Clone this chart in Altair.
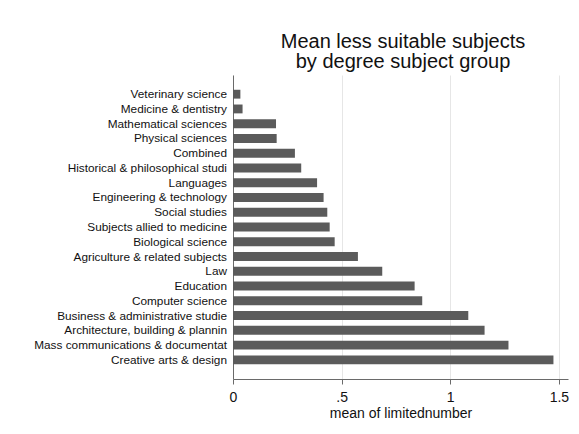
import altair as alt
import pandas as pd

subjects = [
    "Veterinary science",
    "Medicine & dentistry",
    "Mathematical sciences",
    "Physical sciences",
    "Combined",
    "Historical & philosophical studi",
    "Languages",
    "Engineering & technology",
    "Social studies",
    "Subjects allied to medicine",
    "Biological science",
    "Agriculture & related subjects",
    "Law",
    "Education",
    "Computer science",
    "Business & administrative studie",
    "Architecture, building & plannin",
    "Mass communications & documentat",
    "Creative arts & design",
]
means = [0.034, 0.044, 0.198, 0.201, 0.285, 0.314, 0.387, 0.417, 0.434, 0.445,
         0.468, 0.575, 0.687, 0.836, 0.871, 1.083, 1.158, 1.268, 1.475]
x_ticks = [0, 0.5, 1, 1.5]
title_lines = ["Mean less suitable subjects", "by degree subject group"]
x_title = "mean of limitednumber"

df = pd.DataFrame({"subject": subjects, "mean": means})

FONT = "Liberation Sans"

chart = alt.Chart(df).mark_bar(color="#5b5b5b").encode(
    x=alt.X(
        "mean:Q",
        scale=alt.Scale(domain=[0, 1.542], nice=False, zero=True),
        axis=alt.Axis(
            values=x_ticks,
            labelExpr="datum.value == 0.5 ? '.5' : format(datum.value, '~g')",
            title=x_title,
            grid=True,
            gridColor="#e6e6e6",
            gridWidth=1,
            domainColor="#6a6a6a",
            tickColor="#6a6a6a",
            tickSize=5,
            labelFontSize=14,
            titleFontSize=14,
            labelColor="#111111",
            titleColor="#111111",
            titleFontWeight="normal",
            labelPadding=6,
            titlePadding=2,
            labelFlush=False,
        ),
    ),
    y=alt.Y(
        "subject:N",
        sort=subjects,
        scale=alt.Scale(paddingInner=0.4, paddingOuter=1),
        axis=alt.Axis(
            title=None,
            ticks=False,
            tickSize=0,
            labelFontSize=11.8,
            labelPadding=6.5,
            labelColor="#111111",
            domainColor="#6a6a6a",
            grid=False,
            labelLimit=0,
        ),
    ),
).properties(
    width=335,
    height=304,
    autosize=alt.AutoSizeParams(type="none"),
    padding={"left": 225, "top": 67, "right": 2, "bottom": 40},
    title=alt.TitleParams(
        text=title_lines,
        fontSize=20,
        font=FONT,
        fontWeight="normal",
        color="#111111",
        anchor="middle",
        dx=2.5,
        lineHeight=20,
        offset=3.5,
    ),
).configure(
    font=FONT,
).configure_view(
    stroke=None,
).configure_axis(
    labelFont=FONT,
    titleFont=FONT,
)

chart.save("out.html", embed_options={"renderer": "svg", "actions": False})
